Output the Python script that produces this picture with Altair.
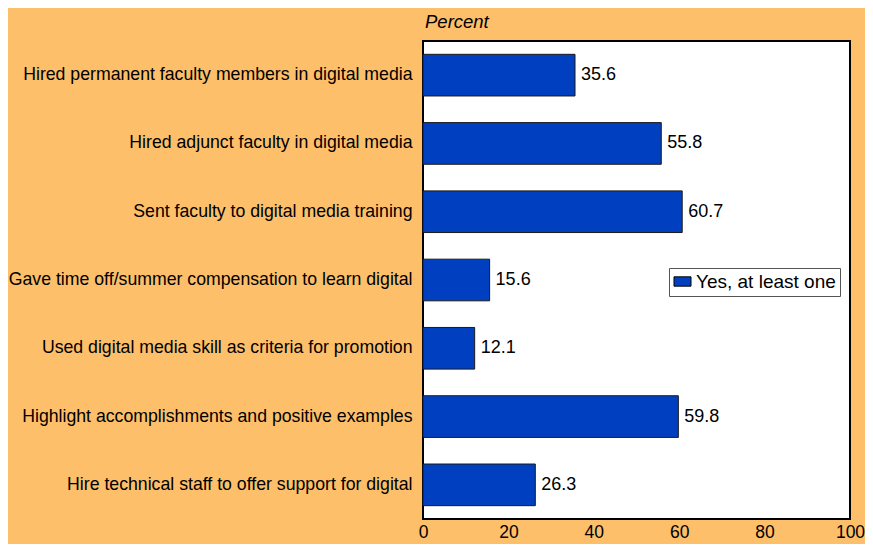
import altair as alt
import pandas as pd

categories = [
    "Hired permanent faculty members in digital media",
    "Hired adjunct faculty in digital media",
    "Sent faculty to digital media training",
    "Gave time off/summer compensation to learn digital",
    "Used digital media skill as criteria for promotion",
    "Highlight accomplishments and positive examples",
    "Hire technical staff to offer support for digital",
]
values = [35.6, 55.8, 60.7, 15.6, 12.1, 59.8, 26.3]
series = ["Yes, at least one"] * len(categories)
x_ticks = [0, 20, 40, 60, 80, 100]

df = pd.DataFrame({"category": categories, "value": values, "series": series,
                   "label": [f"{v:.1f}" for v in values]})

FONT = "Liberation Sans"
BG = "#FDBF6A"
BLUE = "#0040C0"

y = alt.Y("category:N", sort=categories, title=None,
          scale=alt.Scale(paddingInner=0.39, paddingOuter=0.195),
          axis=alt.Axis(labelFont=FONT, labelFontSize=17.7, labelColor="#000000",
                        labelPadding=11, ticks=False, domain=False, labelLimit=500))
x = alt.X("value:Q", title=None,
          scale=alt.Scale(domain=[0, 100], nice=False),
          axis=alt.Axis(values=x_ticks, labelFont=FONT, labelFontSize=17.5,
                        labelColor="#000000", ticks=False, domain=False, grid=False,
                        labelPadding=4, labelFlush=False))

bars = alt.Chart(df).mark_bar(stroke="#1a1a1a", strokeWidth=1).encode(
    y=y, x=x,
    color=alt.Color("series:N", scale=alt.Scale(range=[BLUE]),
                    legend=alt.Legend(title=None, orient="none", legendX=246, legendY=227,
                                      labelFont=FONT, labelFontSize=19, labelColor="#000000",
                                      symbolType="M-1,-0.55L1,-0.55L1,0.55L-1,0.55Z",
                                      symbolSize=289,
                                      symbolStrokeColor="#000000", symbolStrokeWidth=1,
                                      fillColor="#FFFFFF", strokeColor="#555555",
                                      padding=4, labelOffset=4)),
)

text = alt.Chart(df).mark_text(align="left", baseline="middle", dx=6,
                               font=FONT, fontSize=18, color="#000000").encode(
    y=alt.Y("category:N", sort=categories),
    x=alt.X("value:Q"),
    text="label:N",
)

chart = (bars + text).properties(
    width=427, height=478,
    background=BG,
    padding={"left": 415, "top": 33, "right": 15, "bottom": 25},
    autosize=alt.AutoSizeParams(type="none"),
    title=alt.TitleParams("Percent", anchor="start", frame="group", font=FONT, fontSize=18.5,
                          fontStyle="italic", fontWeight="normal", color="#000000",
                          offset=10, dx=2),
).configure_view(
    fill="#FFFFFF", stroke="#000000", strokeWidth=2
)

chart.save("out.html", embed_options={"renderer": "svg", "actions": False})
